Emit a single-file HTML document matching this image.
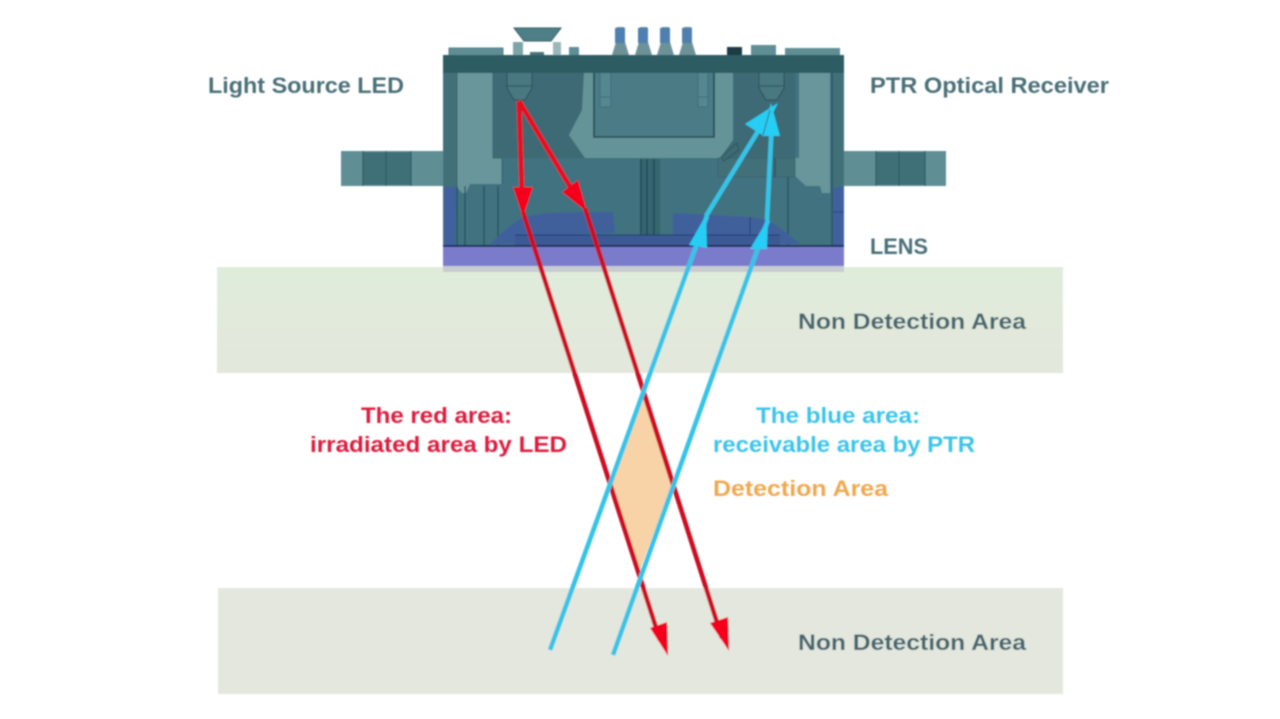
<!DOCTYPE html>
<html><head><meta charset="utf-8"><style>
html,body{margin:0;padding:0;background:#fff;width:1280px;height:719px;overflow:hidden}
svg{display:block}
text{font-family:"Liberation Sans",sans-serif;font-weight:bold;font-size:22.5px}
</style></head><body>
<svg width="1280" height="719" viewBox="0 0 1280 719" xmlns="http://www.w3.org/2000/svg">
<defs>
<filter id="b" x="-5%" y="-5%" width="110%" height="110%"><feGaussianBlur stdDeviation="0.7"/></filter>
<linearGradient id="g" x1="0" y1="0" x2="0" y2="1"><stop offset="0" stop-color="#e0ecda"/><stop offset="1" stop-color="#e3e7dc"/></linearGradient>
</defs>
<rect width="1280" height="719" fill="#fff"/>
<g filter="url(#b)">
<!-- bands -->
<rect x="217" y="267" width="846" height="106" fill="url(#g)"/>
<rect x="218" y="588" width="845" height="106" fill="#e3e7dd"/>

<!-- side tabs -->
<rect x="341" y="151" width="103" height="35" fill="#5f8f94"/>
<rect x="363" y="152" width="48" height="33" fill="#3f6f77"/>
<path d="M363 151V186M386 151V186M411 151V186" stroke="#2d5a63" stroke-width="1.2"/>
<rect x="844" y="151" width="102" height="35" fill="#5f8f94"/>
<rect x="876" y="152" width="49" height="33" fill="#3f6f77"/>
<path d="M899 151V186M925 151V186M876 151V186" stroke="#2d5a63" stroke-width="1.2"/>

<!-- top components -->
<rect x="449" y="48" width="54" height="8" fill="#5f8f94" stroke="#3d6c74" stroke-width=".8"/>
<path d="M514 28H561L551 41H524Z" fill="#4f7f86" stroke="#2f5c65" stroke-width="1"/>
<rect x="513" y="42" width="10" height="14" fill="#7ea4a8"/>
<rect x="553" y="42" width="8" height="14" fill="#9ab8ba"/>
<rect x="530" y="52" width="14" height="4" fill="#49757c"/>
<rect x="569" y="47" width="10" height="9" fill="#5f8f94"/>
<path d="M612 55l4-13v-13a2 2 0 0 1 2-2h5a2 2 0 0 1 2 2v13l4 13z" fill="#6c9298"/>
<rect x="615" y="28" width="10" height="15" fill="#4f7fae"/>
<path d="M635 55l4-13v-13a2 2 0 0 1 2-2h5a2 2 0 0 1 2 2v13l4 13z" fill="#6c9298"/>
<rect x="638" y="28" width="10" height="15" fill="#4f7fae"/>
<path d="M657 55l4-13v-13a2 2 0 0 1 2-2h5a2 2 0 0 1 2 2v13l4 13z" fill="#6c9298"/>
<rect x="660" y="28" width="10" height="15" fill="#4f7fae"/>
<path d="M679 55l4-13v-13a2 2 0 0 1 2-2h5a2 2 0 0 1 2 2v13l4 13z" fill="#6c9298"/>
<rect x="682" y="28" width="10" height="15" fill="#4f7fae"/>
<path d="M727 55V47H742V55Z" fill="#1f3a42"/>
<rect x="751" y="45" width="25" height="11" fill="#5f8f94"/>
<rect x="785" y="48" width="55" height="8" fill="#5f8f94"/>

<!-- body -->
<rect x="443" y="72" width="401" height="174" fill="#417280"/>
<rect x="493" y="72" width="302" height="86" fill="#3c6b75"/>
<!-- left light column -->
<rect x="444" y="72" width="13" height="115" fill="#437078"/>
<path d="M457 72H493V158H502V184H470L466 193H462L457 187Z" fill="#68969a"/>
<path d="M457 72V187M493 72V158H502V184" stroke="#2f5c65" stroke-width=".8" fill="none"/>
<!-- right light column -->
<rect x="832" y="72" width="12" height="115" fill="#437078"/>
<path d="M799 72H830V193H822L820 186H806L795 176V158H799Z" fill="#68969a"/>
<path d="M832 72V245" stroke="#24505a" stroke-width="1.2"/>
<!-- center light T piece -->
<path d="M584 72H733V140L720 158H585L569 135L582 110Z" fill="#659498"/>
<path d="M594 72H714V137H594Z" fill="#4b7c86" stroke="#1f4651" stroke-width="1.6"/>
<path d="M600 72V107H611V72M698 72V107H708V72" fill="#558790" stroke="#3a6a73" stroke-width=".8"/>
<path d="M600 97H611M698 97H708" stroke="#3a6a73" stroke-width=".8"/>
<!-- center vertical lines -->
<rect x="640" y="159" width="20" height="77" fill="#35656e"/>
<path d="M641 159V236M647 159V236M654 159V236" stroke="#1f4651" stroke-width="1.3"/>
<!-- right block -->
<path d="M718 158H795V177H718Z" fill="#437078" stroke="#35636c" stroke-width=".8"/>
<path d="M721 157L737 143L739 150L724 161Z" fill="none" stroke="#2a545d" stroke-width="1"/>
<path d="M788 177V245M775 158V177M457 186V245M465 186V245M484 186V245M498 186V245" stroke="#24505a" stroke-width="1.2"/>
<!-- blue side -->
<path d="M444 187H456L455 245H444Z" fill="#41619e"/>
<path d="M833 188L844 186V245H833Z" fill="#41619e"/>
<path d="M833 212H844" stroke="#254a80" stroke-width="1"/>
<!-- lenses -->
<path d="M490 244L507 228L523 217L547 213L583 212L613 212L615 233L540 236H515V244Z" fill="#40609c"/>
<path d="M673 213L750 217L768 220L787 233L800 244H780V235H673Z" fill="#40609c"/>
<rect x="515" y="235" width="265" height="10" fill="#3a5a95"/>
<path d="M515 235H780M750 217V234" stroke="#1f3a70" stroke-width="1"/>
<!-- LED / receiver -->
<path d="M507 72H532V88L525 100H514L507 88Z" fill="#4a7881" stroke="#274f59" stroke-width="1"/>
<path d="M507 86H532" stroke="#274f59" stroke-width="1"/>
<path d="M759 72H784V88L777 100H766L759 88Z" fill="#4a7881" stroke="#274f59" stroke-width="1"/>
<path d="M759 86H784" stroke="#274f59" stroke-width="1"/>
<!-- top plate -->
<rect x="443" y="55" width="401" height="18" fill="#2f5b64"/>
<!-- lens band -->
<rect x="443" y="245" width="401" height="2" fill="#1b2f5a"/>
<rect x="443" y="247" width="401" height="19" fill="#7a7ccb"/>
<rect x="443" y="266" width="401" height="6" fill="#c6ccd0"/>

<!-- detection -->
<path d="M644 392L673 482L640 570L611 482Z" fill="#f8d3a8"/>

<!-- red -->
<g stroke="#ea0f22" stroke-width="5" fill="none">
<path d="M519 101L522 195"/>
<path d="M519 101L575 195"/>
</g>
<g stroke="#cf0f22" stroke-width="4.6" fill="none">
<path d="M523 212L660 640"/>
<path d="M585 208L722 638"/>
</g>
<path d="M513 187L533 187L523 217Z" fill="#f4001a"/>
<path d="M562 192L578 180L587 212Z" fill="#f4001a"/>
<path d="M650 628L667 622L668 656Z" fill="#f4001a"/>
<path d="M710 623L728 617L729 651Z" fill="#f4001a"/>

<!-- blue -->
<g stroke="#35c4e8" stroke-width="4.6" fill="none">
<path d="M550 650L707 216"/>
<path d="M613 655L768 220"/>
<path d="M706 216L768 115"/>
<path d="M767 220L772 120"/>
</g>
<path d="M689 245L707 248L706 215Z" fill="#25cdf5"/>
<path d="M750 249L767 249L768 219Z" fill="#25cdf5"/>
<path d="M745 124L762 135L778 103Z" fill="#25cdf5"/>
<path d="M762 136L780 136L771 103Z" fill="#25cdf5"/>
<path d="M770 110L763 135" stroke="#3c6b75" stroke-width="1" fill="none"/>

<!-- labels -->
<text x="208" y="93" fill="#4a7078" textLength="196" lengthAdjust="spacingAndGlyphs">Light Source LED</text>
<text x="870" y="93" fill="#4a7078" textLength="239" lengthAdjust="spacingAndGlyphs">PTR Optical Receiver</text>
<text x="870" y="254" fill="#4a7078" textLength="58" lengthAdjust="spacingAndGlyphs">LENS</text>
<text x="798" y="329" fill="#44656e" textLength="228" lengthAdjust="spacingAndGlyphs">Non Detection Area</text>
<text x="798" y="650" fill="#44656e" textLength="228" lengthAdjust="spacingAndGlyphs">Non Detection Area</text>
<text x="361" y="423" fill="#dc1e3c" textLength="151" lengthAdjust="spacingAndGlyphs">The red area:</text>
<text x="310" y="452" fill="#dc1e3c" textLength="257" lengthAdjust="spacingAndGlyphs">irradiated area by LED</text>
<text x="756" y="423" fill="#3cc4e8" textLength="164" lengthAdjust="spacingAndGlyphs">The blue area:</text>
<text x="713" y="452" fill="#3cc4e8" textLength="262" lengthAdjust="spacingAndGlyphs">receivable area by PTR</text>
<text x="713" y="496" fill="#f0a850" textLength="175" lengthAdjust="spacingAndGlyphs">Detection Area</text>
</g>
</svg>
</body></html>
